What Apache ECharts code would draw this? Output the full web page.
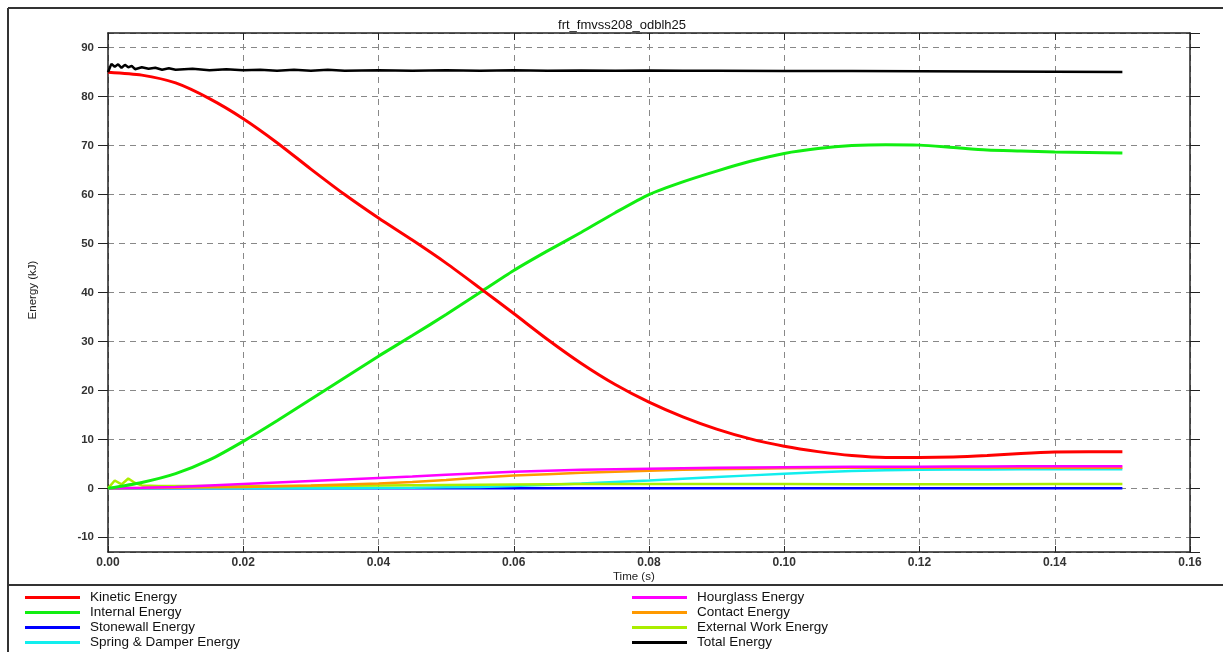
<!DOCTYPE html>
<html><head><meta charset="utf-8">
<script src="https://cdn.jsdelivr.net/npm/echarts@6/dist/echarts.min.js"></script>
<style>html,body{margin:0;padding:0;background:#fff}#c{width:1223px;height:652px}</style>
</head><body><div id="c"></div>
<script>
const chartTitle = 'frt_fmvss208_odblh25';
const xAxisName = 'Time (s)';
const yAxisName = 'Energy (kJ)';
const xTicks = [0, 0.02, 0.04, 0.06, 0.08, 0.10, 0.12, 0.14, 0.16];
const yTicks = [-10, 0, 10, 20, 30, 40, 50, 60, 70, 80, 90];

const legendLeft = ['Kinetic Energy', 'Internal Energy', 'Stonewall Energy', 'Spring & Damper Energy'];
const legendRight = ['Hourglass Energy', 'Contact Energy', 'External Work Energy', 'Total Energy'];

// common time base (s)
const time = [0, 0.005, 0.01, 0.015, 0.02, 0.025, 0.03, 0.035, 0.04, 0.045, 0.05, 0.055, 0.06, 0.065, 0.07, 0.075,
  0.08, 0.085, 0.09, 0.095, 0.10, 0.105, 0.11, 0.115, 0.12, 0.125, 0.13, 0.135, 0.14, 0.145, 0.15];

const kinetic = [85, 84.4, 82.8, 79.6, 75.5, 70.6, 65.2, 60.0, 55.2, 50.7, 46, 40.9, 35.7, 30.4, 25.5, 21.2,
  17.6, 14.6, 12.1, 10.1, 8.6, 7.5, 6.7, 6.3, 6.3, 6.4, 6.7, 7.1, 7.4, 7.5, 7.5];
const internal = [0, 1.2, 3, 5.8, 9.6, 13.8, 18.2, 22.6, 27, 31.2, 35.5, 40, 44.5, 48.5, 52.3, 56.3,
  60, 62.6, 64.8, 66.8, 68.4, 69.4, 70, 70.2, 70.1, 69.6, 69.1, 68.9, 68.7, 68.6, 68.5];
const stonewall = [0, 0, 0, 0, 0, 0, 0, 0, 0, 0, 0, 0, 0, 0, 0, 0,
  0, 0, 0, 0, 0, 0, 0, 0, 0, 0, 0, 0, 0, 0, 0];
const springDamper = [0, 0, 0, 0, 0, 0, 0, 0, 0.05, 0.1, 0.2, 0.3, 0.5, 0.75, 1.0, 1.3,
  1.6, 1.95, 2.3, 2.65, 3.0, 3.3, 3.55, 3.7, 3.8, 3.85, 3.85, 3.9, 3.9, 3.9, 3.9];
const hourglass = [0, 0.1, 0.3, 0.6, 0.9, 1.2, 1.5, 1.8, 2.1, 2.4, 2.8, 3.1, 3.4, 3.6, 3.8, 3.9,
  4.0, 4.1, 4.2, 4.25, 4.3, 4.35, 4.4, 4.4, 4.4, 4.45, 4.45, 4.5, 4.5, 4.5, 4.5];
const contact = [0, 0.05, 0.1, 0.2, 0.3, 0.45, 0.6, 0.8, 1.0, 1.3, 1.7, 2.2, 2.6, 2.9, 3.2, 3.4,
  3.6, 3.8, 3.9, 4.0, 4.1, 4.15, 4.2, 4.2, 4.2, 4.2, 4.2, 4.2, 4.2, 4.2, 4.2];

const extTime = [0, 0.001, 0.002, 0.003, 0.004, 0.005, 0.0075, 0.01, 0.02, 0.03, 0.04, 0.05, 0.06, 0.07,
  0.08, 0.09, 0.10, 0.11, 0.12, 0.13, 0.14, 0.15];
const externalWork = [0, 1.6, 0.8, 2.0, 1.1, 0.6, 0.5, 0.5, 0.5, 0.5, 0.6, 0.7, 0.8, 0.9,
  0.9, 0.9, 0.9, 0.85, 0.85, 0.85, 0.9, 0.9];

const totalTime = [0, 0.0005, 0.001, 0.0015, 0.002, 0.0025, 0.003, 0.0035, 0.004, 0.005, 0.006, 0.007, 0.008,
  0.009, 0.01, 0.0125, 0.015, 0.0175, 0.02, 0.0225, 0.025, 0.0275, 0.03, 0.0325, 0.035, 0.04, 0.045, 0.05,
  0.055, 0.06, 0.065, 0.07, 0.075, 0.08, 0.085, 0.09, 0.10, 0.11, 0.12, 0.13, 0.14, 0.15];
const totalEnergy = [85.0, 86.7, 86.1, 86.6, 85.9, 86.5, 86.0, 86.3, 85.6, 86.0, 85.7, 85.9, 85.5,
  85.8, 85.5, 85.7, 85.4, 85.6, 85.4, 85.5, 85.3, 85.5, 85.3, 85.5, 85.3, 85.4, 85.3, 85.4,
  85.3, 85.4, 85.3, 85.35, 85.3, 85.35, 85.3, 85.3, 85.25, 85.25, 85.2, 85.15, 85.1, 85.05];

const pair = (ts, vs) => ts.map((t, i) => [t, vs[i]]);
const FONT = "'Liberation Sans', Arial, sans-serif";

function line(name, ts, vs, color, w, z, smooth) {
  return { name, type: 'line', data: pair(ts, vs), showSymbol: false, symbol: 'none', z: z,
    lineStyle: { color, width: w }, itemStyle: { color }, smooth: smooth || false };
}

const chart = echarts.init(document.getElementById('c'), null, { renderer: 'canvas' });
const gridLine = { show: true, lineStyle: { color: '#888', type: [6, 5], width: 1 } };
const yMin = -13, yMax = 93;

const legendCommon = {
  orient: 'vertical', icon: 'rect', itemWidth: 55, itemHeight: 3, itemGap: 0,
  textStyle: { fontFamily: FONT, fontSize: 13.5, color: '#111', lineHeight: 15, padding: [0, 0, 0, 5] },
  selectedMode: false, padding: 0
};

chart.setOption({
  animation: false,
  backgroundColor: '#ffffff',
  title: { text: chartTitle, left: 617, top: 14, textAlign: 'center',
    textStyle: { fontFamily: FONT, fontSize: 13, fontWeight: 'normal', color: '#111' } },
  grid: { left: 108, right: 33, top: 33, bottom: 100, show: false },
  legend: [
    Object.assign({ data: legendLeft, left: 25, top: 590 }, legendCommon),
    Object.assign({ data: legendRight, left: 632, top: 590 }, legendCommon)
  ],
  xAxis: [
    { type: 'value', min: 0, max: 0.16, interval: 0.02, position: 'bottom',
      axisLine: { show: true, onZero: false, lineStyle: { color: '#222', width: 1.5 } },
      axisTick: { show: true, inside: true, length: 6, lineStyle: { color: '#222' } },
      axisLabel: { fontFamily: FONT, fontSize: 12, fontWeight: 'bold', color: '#333', margin: 5,
        formatter: v => v.toFixed(2) },
      splitLine: gridLine },
    { type: 'value', min: 0, max: 0.16, interval: 0.02, position: 'top',
      axisLine: { show: true, onZero: false, lineStyle: { color: '#222', width: 1.5 } },
      axisTick: { show: true, inside: true, length: 7, lineStyle: { color: '#222' } },
      axisLabel: { show: false }, splitLine: { show: false } }
  ],
  yAxis: [
    { type: 'value', min: yMin, max: yMax, splitNumber: 10, position: 'left',
      axisLine: { show: true, onZero: false, lineStyle: { color: '#222', width: 1.5 } },
      axisTick: { show: true, inside: false, length: 10, lineStyle: { color: '#222' } },
      axisLabel: { fontFamily: FONT, fontSize: 11.5, fontWeight: 'bold', color: '#333', margin: 14,
        showMinLabel: false, showMaxLabel: false },
      splitLine: gridLine },
    { type: 'value', min: yMin, max: yMax, splitNumber: 10, position: 'right',
      axisLine: { show: true, onZero: false, lineStyle: { color: '#222', width: 1.5 } },
      axisTick: { show: true, inside: false, length: 10, lineStyle: { color: '#222' } },
      axisLabel: { show: false }, splitLine: { show: false } }
  ],
  graphic: [
    { type: 'line', shape: { x1: 8, y1: 8, x2: 1223, y2: 8 }, style: { stroke: '#333', lineWidth: 2 } },
    { type: 'line', shape: { x1: 8, y1: 8, x2: 8, y2: 652 }, style: { stroke: '#333', lineWidth: 2 } },
    { type: 'line', shape: { x1: 8, y1: 585, x2: 1223, y2: 585 }, style: { stroke: '#333', lineWidth: 2 } },
    { type: 'text', left: 613, top: 571, style: { text: xAxisName, font: "11.5px 'Liberation Sans', Arial", fill: '#222' } },
    { type: 'text', x: 33, y: 290, rotation: Math.PI / 2,
      style: { text: yAxisName, font: "11.5px 'Liberation Sans', Arial", fill: '#222', align: 'center', verticalAlign: 'middle' } }
  ],
  series: [
    line('Stonewall Energy', time, stonewall, '#0000ff', 2.5, 2),
    line('Spring & Damper Energy', time, springDamper, '#11eeee', 2.5, 2),
    line('External Work Energy', extTime, externalWork, '#aaee00', 2.5, 2),
    line('Contact Energy', time, contact, '#ff9900', 2.5, 2),
    line('Hourglass Energy', time, hourglass, '#ff00ff', 2.5, 2),
    line('Internal Energy', time, internal, '#11ee11', 3, 3, 0.25),
    line('Kinetic Energy', time, kinetic, '#ff0000', 3, 3, 0.25),
    line('Total Energy', totalTime, totalEnergy, '#000000', 2.5, 4)
  ]
});
</script></body></html>
